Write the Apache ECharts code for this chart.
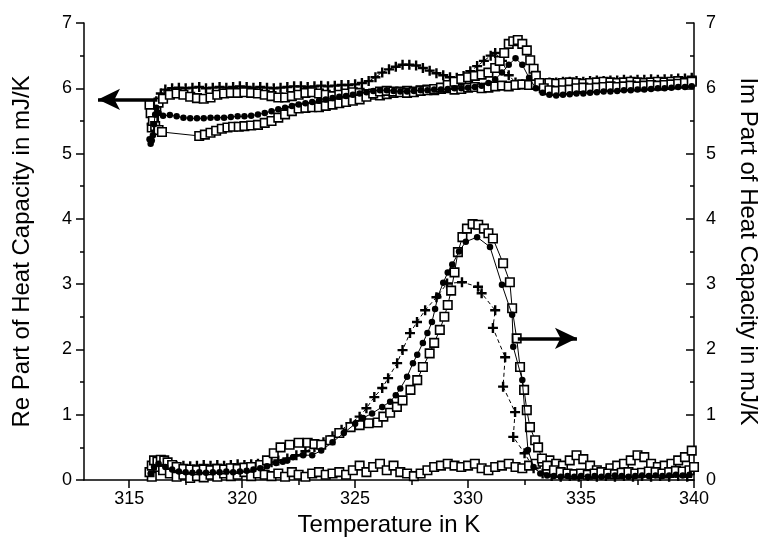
<!DOCTYPE html>
<html>
<head>
<meta charset="utf-8">
<script src="https://cdn.jsdelivr.net/npm/echarts@6/dist/echarts.min.js"></script>
<style>
html,body{margin:0;padding:0;background:#fff;}
#chart{width:768px;height:556px;}
</style>
</head>
<body>
<div id="chart"></div>
<script>
// ---- tick labels ----
const xMajorTicks = [315, 320, 325, 330, 335, 340];
const xMinorTicks = [317.5, 322.5, 327.5, 332.5, 337.5];
const xName = 'Temperature in K';
const yLeftName = 'Re Part of Heat Capacity in mJ/K';
const yRightName = 'Im Part of Heat Capacity in mJ/K';

// ---- Re part (left axis) ----
const reSqHeat = [
[315.9,5.75],[315.95,5.62],[316.05,5.5],[316.15,5.42],[316.3,5.36],[316.45,5.33],
[318.1,5.27],[318.35,5.29],[318.6,5.32],[318.85,5.35],[319.1,5.38],[319.35,5.4],[319.6,5.41],[319.85,5.41],[320.1,5.42],[320.4,5.43],[320.7,5.44],[321.0,5.47],[321.3,5.5],[321.6,5.55],[321.9,5.6],[322.2,5.65],[322.5,5.69],[322.8,5.7],[323.1,5.71],[323.4,5.71],[323.7,5.73],[324.0,5.75],[324.3,5.77],[324.6,5.79],[324.9,5.81],[325.2,5.83],[325.5,5.87],[325.8,5.92],[326.1,5.95],[326.4,5.96],[326.7,5.95],[327.0,5.94],[327.3,5.93],[327.6,5.94],[327.9,5.96],[328.2,5.97],[328.5,5.99],[328.8,6.01],[329.1,6.05],[329.4,6.1],[329.7,6.14],[330.0,6.17],[330.3,6.19],[330.6,6.21],[330.9,6.24],[331.2,6.31],[331.4,6.42],[331.6,6.54],[331.8,6.68],[332.0,6.72],[332.2,6.74],[332.4,6.68],[332.6,6.58],[332.75,6.43],[332.9,6.3],[333.0,6.19],[333.15,6.08],[333.35,6.0],[333.6,5.97],[333.9,5.96],[334.2,5.97],[334.5,5.98],[334.8,6.0],[335.1,6.01],[335.4,6.0],[335.7,6.01],[336.0,6.02],[336.3,6.03],[336.6,6.02],[336.9,6.03],[337.2,6.04],[337.5,6.03],[337.8,6.04],[338.1,6.05],[338.4,6.04],[338.7,6.05],[339.0,6.06],[339.3,6.07],[339.6,6.08],[339.9,6.1]
];
const reCircHeat = [
[315.9,5.22],[315.95,5.15],[316.0,5.2],[316.05,5.28],[316.1,5.45],[316.15,5.6],[316.2,5.7],[316.3,5.62],[316.5,5.58],[316.8,5.59],[317.1,5.57],[317.4,5.55],[317.7,5.54],[318.0,5.54],[318.3,5.54],[318.6,5.55],[318.9,5.55],[319.2,5.55],[319.5,5.56],[319.8,5.57],[320.1,5.57],[320.4,5.58],[320.7,5.6],[321.0,5.62],[321.3,5.65],[321.6,5.68],[321.9,5.7],[322.2,5.73],[322.5,5.75],[322.8,5.77],[323.1,5.79],[323.4,5.81],[323.7,5.83],[324.0,5.85],[324.3,5.87],[324.6,5.88],[324.9,5.9],[325.2,5.92],[325.5,5.94],[325.8,5.96],[326.1,5.97],[326.4,5.97],[326.7,5.96],[327.0,5.95],[327.3,5.95],[327.6,5.96],[327.9,5.97],[328.2,5.97],[328.5,5.98],[328.8,5.98],[329.1,5.99],[329.4,6.0],[329.7,6.0],[330.0,6.01],[330.3,6.02],[330.6,6.04],[330.9,6.08],[331.2,6.14],[331.5,6.24],[331.8,6.36],[332.1,6.46],[332.4,6.36],[332.7,6.16],[333.0,6.0],[333.3,5.93],[333.6,5.9],[333.9,5.89],[334.2,5.9],[334.5,5.91],[334.8,5.92],[335.1,5.92],[335.4,5.93],[335.7,5.94],[336.0,5.95],[336.3,5.95],[336.6,5.96],[336.9,5.97],[337.2,5.97],[337.5,5.98],[337.8,5.98],[338.1,5.99],[338.4,6.0],[338.7,6.0],[339.0,6.01],[339.3,6.02],[339.6,6.02],[339.9,6.03]
];
const rePlusHeat = [
[316.0,5.45],[316.1,5.6],[316.2,5.8],[316.4,5.92],[316.6,5.98],[316.9,6.0],[317.2,6.01],[317.5,6.0],[317.8,6.01],[318.1,6.02],[318.4,6.0],[318.7,6.01],[319.0,6.02],[319.3,6.01],[319.6,6.02],[319.9,6.03],[320.2,6.02],[320.5,6.01],[320.8,6.02],[321.1,6.01],[321.4,6.0],[321.7,6.01],[322.0,6.02],[322.3,6.03],[322.6,6.03],[322.9,6.02],[323.2,6.03],[323.5,6.04],[323.8,6.03],[324.1,6.04],[324.4,6.05],[324.7,6.05],[325.0,6.06],[325.3,6.08],[325.6,6.11],[325.9,6.17],[326.2,6.24],[326.5,6.29],[326.8,6.33],[327.1,6.36],[327.4,6.36],[327.7,6.35],[328.0,6.31],[328.3,6.27],[328.6,6.23],[328.9,6.2],[329.2,6.17],[329.5,6.16],[329.8,6.19],[330.1,6.26],[330.4,6.34],[330.7,6.42],[331.0,6.5],[331.2,6.54],[331.5,6.42],[331.8,6.2],[332.1,6.09],[332.4,6.06],[332.7,6.07],[333.0,6.08],[333.3,6.08],[333.6,6.09],[333.9,6.09],[334.2,6.1],[334.5,6.1],[334.8,6.11],[335.1,6.1],[335.4,6.11],[335.7,6.12],[336.0,6.11],[336.3,6.12],[336.6,6.12],[336.9,6.13],[337.2,6.12],[337.5,6.13],[337.8,6.13],[338.1,6.14],[338.4,6.13],[338.7,6.14],[339.0,6.14],[339.3,6.15],[339.6,6.15],[339.9,6.16]
];
const reCool = [
[316.0,5.4],[316.1,5.55],[316.2,5.7],[316.3,5.78],[316.5,5.84],[316.8,5.9],[317.1,5.92],[317.4,5.9],[317.7,5.87],[318.0,5.85],[318.3,5.84],[318.6,5.86],[318.9,5.9],[319.2,5.92],[319.5,5.93],[319.8,5.93],[320.1,5.94],[320.4,5.93],[320.7,5.92],[321.0,5.9],[321.3,5.88],[321.6,5.86],[321.9,5.86],[322.2,5.88],[322.5,5.9],[322.8,5.93],[323.1,5.94],[323.4,5.92],[323.7,5.9],[324.0,5.88],[324.3,5.9],[324.6,5.92],[324.9,5.94],[325.2,5.93],[325.5,5.91],[325.8,5.9],[326.1,5.89],[326.4,5.91],[326.7,5.93],[327.0,5.95],[327.3,5.96],[327.6,5.95],[327.9,5.97],[328.2,5.98],[328.5,5.97],[328.8,5.99],[329.1,6.0],[329.4,5.98],[329.7,5.99],[330.0,6.01],[330.3,6.02],[330.6,6.0],[330.9,6.01],[331.2,6.03],[331.5,6.04],[331.8,6.03],[332.1,6.05],[332.4,6.06],[332.7,6.05],[333.0,6.06],[333.3,6.07],[333.6,6.08],[333.9,6.07],[334.2,6.08],[334.5,6.09],[334.8,6.08],[335.1,6.07],[335.4,6.08],[335.7,6.09],[336.0,6.1],[336.3,6.09],[336.6,6.08],[336.9,6.09],[337.2,6.1],[337.5,6.09],[337.8,6.08],[338.1,6.09],[338.4,6.1],[338.7,6.09],[339.0,6.1],[339.3,6.11],[339.6,6.1],[339.9,6.12]
];

// ---- Im part (right axis) ----
const imSqHeat = [
[315.9,0.12],[316.0,0.22],[316.1,0.3],[316.25,0.28],[316.4,0.31],[316.55,0.3],[316.7,0.27],[316.9,0.23],[317.1,0.2],[317.4,0.17],[317.7,0.16],[318.0,0.15],[318.3,0.16],[318.6,0.15],[318.9,0.17],[319.2,0.16],[319.5,0.18],[319.8,0.17],[320.1,0.19],[320.4,0.2],[320.8,0.23],[321.1,0.3],[321.4,0.41],[321.7,0.5],[322.1,0.54],[322.5,0.57],[322.9,0.57],[323.2,0.55],[323.5,0.54],[323.9,0.61],[324.3,0.72],[324.8,0.81],[325.2,0.84],[325.6,0.87],[326.0,0.88],[326.25,0.97],[326.55,1.03],[326.85,1.12],[327.1,1.22],[327.45,1.38],[327.75,1.53],[328.0,1.73],[328.3,1.94],[328.5,2.1],[328.75,2.3],[328.95,2.5],[329.1,2.68],[329.25,2.9],[329.4,3.18],[329.55,3.49],[329.75,3.72],[329.95,3.85],[330.2,3.92],[330.45,3.91],[330.7,3.85],[330.9,3.78],[331.1,3.7],[331.55,3.32],[331.85,3.03],[331.95,2.63],[332.15,2.17],[332.3,1.73],[332.48,1.38],[332.6,1.07],[332.74,0.81],[332.97,0.61],[333.1,0.5],[333.27,0.33],[333.5,0.22],[333.8,0.15],[334.1,0.12],[334.4,0.1],[334.7,0.09],[335.0,0.1],[335.3,0.08],[335.6,0.1],[335.9,0.12],[336.2,0.1],[336.5,0.09],[336.8,0.11],[337.1,0.12],[337.4,0.1],[337.7,0.11],[338.0,0.13],[338.3,0.12],[338.6,0.1],[338.9,0.12],[339.2,0.14],[339.5,0.13],[339.8,0.15],[340.0,0.2]
];
const imCircHeat = [
[315.95,0.1],[316.1,0.2],[316.3,0.25],[316.6,0.2],[316.9,0.16],[317.2,0.13],[317.5,0.12],[317.8,0.11],[318.1,0.12],[318.4,0.11],[318.7,0.12],[319.0,0.12],[319.3,0.13],[319.6,0.12],[319.9,0.13],[320.2,0.14],[320.5,0.16],[320.8,0.18],[321.1,0.21],[321.5,0.26],[321.8,0.28],[322.0,0.3],[322.25,0.35],[322.7,0.38],[323.1,0.38],[323.5,0.45],[324.0,0.58],[324.5,0.72],[325.0,0.86],[325.35,0.95],[325.75,1.02],[326.2,1.12],[326.55,1.2],[326.8,1.3],[327.0,1.4],[327.3,1.58],[327.56,1.79],[327.75,1.92],[328.0,2.1],[328.2,2.25],[328.4,2.42],[328.54,2.62],[328.67,2.82],[328.9,3.02],[329.1,3.18],[329.3,3.3],[329.6,3.5],[329.9,3.65],[330.4,3.72],[330.97,3.57],[331.5,2.99],[331.95,2.53],[332.0,2.04],[332.4,1.53],[332.65,0.46],[332.9,0.2],[333.2,0.1],[333.5,0.07],[333.8,0.06],[334.1,0.05],[334.4,0.06],[334.7,0.05],[335.0,0.06],[335.3,0.05],[335.6,0.06],[335.9,0.05],[336.2,0.06],[336.5,0.07],[336.8,0.06],[337.1,0.05],[337.4,0.06],[337.7,0.07],[338.0,0.06],[338.3,0.07],[338.6,0.06],[338.9,0.07],[339.2,0.08],[339.5,0.07],[339.8,0.08]
];
const imPlusHeat = [
[316.2,0.22],[316.5,0.28],[316.8,0.25],[317.1,0.21],[317.4,0.22],[317.7,0.21],[318.0,0.22],[318.3,0.23],[318.6,0.22],[318.9,0.23],[319.2,0.22],[319.5,0.23],[319.8,0.24],[320.1,0.23],[320.4,0.24],[320.7,0.25],[321.0,0.25],[321.3,0.27],[321.6,0.3],[322.0,0.33],[322.4,0.38],[322.8,0.44],[323.2,0.5],[323.6,0.58],[324.0,0.67],[324.4,0.77],[324.8,0.87],[325.2,0.97],[325.5,1.1],[325.85,1.27],[326.2,1.41],[326.46,1.56],[326.86,1.79],[327.1,1.99],[327.43,2.25],[327.74,2.42],[328.1,2.6],[328.6,2.8],[329.07,3.01],[329.73,3.03],[330.44,2.96],[330.6,2.86],[331.2,2.6],[331.1,2.33],[331.64,1.88],[331.55,1.43],[332.08,1.04],[332.0,0.66],[332.5,0.41],[332.9,0.18],[333.3,0.1],[333.7,0.06],[334.1,0.05],[334.5,0.06],[334.9,0.05],[335.3,0.06],[335.7,0.05],[336.1,0.06],[336.5,0.05],[336.9,0.06],[337.3,0.05],[337.7,0.06],[338.1,0.05],[338.5,0.06],[338.9,0.05],[339.3,0.06],[339.7,0.05]
];
const imCool = [
[316.0,0.05],[316.2,0.2],[316.5,0.15],[316.8,0.1],[317.1,0.05],[317.4,0.08],[317.7,0.03],[318.0,0.06],[318.3,0.04],[318.6,0.08],[318.9,0.05],[319.2,0.1],[319.5,0.06],[319.8,0.08],[320.1,0.12],[320.4,0.06],[320.7,0.1],[321.0,0.08],[321.3,0.06],[321.6,0.1],[321.9,0.05],[322.2,0.12],[322.5,0.08],[322.8,0.05],[323.1,0.1],[323.4,0.12],[323.7,0.08],[324.0,0.1],[324.3,0.12],[324.6,0.08],[324.9,0.15],[325.2,0.22],[325.5,0.12],[325.8,0.2],[326.1,0.25],[326.4,0.15],[326.7,0.22],[327.0,0.12],[327.3,0.1],[327.6,0.06],[327.9,0.1],[328.2,0.15],[328.5,0.2],[328.8,0.22],[329.1,0.25],[329.4,0.22],[329.7,0.2],[330.0,0.22],[330.3,0.25],[330.6,0.18],[330.9,0.15],[331.2,0.2],[331.5,0.22],[331.8,0.25],[332.1,0.2],[332.4,0.18],[332.7,0.22],[333.0,0.25],[333.3,0.28],[333.6,0.3],[333.9,0.25],[334.2,0.22],[334.5,0.3],[334.8,0.38],[335.1,0.32],[335.4,0.22],[335.7,0.15],[336.0,0.12],[336.3,0.18],[336.6,0.22],[336.9,0.25],[337.2,0.3],[337.5,0.38],[337.8,0.35],[338.1,0.25],[338.4,0.2],[338.7,0.22],[339.0,0.25],[339.3,0.3],[339.6,0.35],[339.9,0.45]
];

// ---- annotation arrows (data coords) ----
const reArrow = {from: [313.62, 5.83], to: [316.25, 5.83]};
const imArrow = {from: [332.2, 2.17], to: [334.82, 2.17]};

const FONT = 'Liberation Sans, Arial, sans-serif';
const PLUS = 'path://M3.8,0H6.2V3.8H10V6.2H6.2V10H3.8V6.2H0V3.8H3.8Z';

function sqSeries(name, data, yIdx) {
  return {
    name, type: 'line', data, yAxisIndex: yIdx, symbol: 'rect', symbolSize: 8.5,
    showAllSymbol: true, z: 3,
    itemStyle: {color: '#fff', borderColor: '#000', borderWidth: 1.6},
    lineStyle: {color: '#000', width: 1}
  };
}
function circSeries(name, data, yIdx) {
  return {
    name, type: 'line', data, yAxisIndex: yIdx, symbol: 'circle', symbolSize: 6.5,
    showAllSymbol: true, z: 4,
    itemStyle: {color: '#000', borderWidth: 0},
    lineStyle: {color: '#000', width: 1}
  };
}
function plusSeries(name, data, yIdx) {
  return {
    name, type: 'line', data, yAxisIndex: yIdx, symbol: PLUS, symbolSize: 10,
    showAllSymbol: true, z: 2,
    itemStyle: {color: '#000', borderWidth: 0},
    lineStyle: {color: '#000', width: 1, type: [4, 3]}
  };
}
function arrowLine(a, dir) {
  const start = {coord: a.from, symbol: dir === 'left' ? 'arrow' : 'none', symbolSize: [16, 22]};
  const end = {coord: a.to, symbol: dir === 'left' ? 'none' : 'arrow', symbolSize: [16, 22]};
  return {
    silent: true, animation: false,
    label: {show: false},
    lineStyle: {color: '#000', width: 3.5, type: 'solid'},
    itemStyle: {color: '#000'},
    emphasis: {disabled: true},
    data: [[start, end]]
  };
}

const s1 = sqSeries('Re cooling', reCool, 0);
const s2 = plusSeries('Re +', rePlusHeat, 0);
const s3 = sqSeries('Re squares', reSqHeat, 0);
s3.markLine = arrowLine(reArrow, 'left');
const s4 = circSeries('Re circles', reCircHeat, 0);
const s5 = sqSeries('Im cooling', imCool, 1);
const s6 = plusSeries('Im +', imPlusHeat, 1);
const s7 = sqSeries('Im squares', imSqHeat, 1);
s7.markLine = arrowLine(imArrow, 'right');
const s8 = circSeries('Im circles', imCircHeat, 1);

const axisLineStyle = {color: '#000', width: 1.5};
const labelStyle = {color: '#000', fontFamily: FONT, fontSize: 18};
const nameStyle = {color: '#000', fontFamily: FONT, fontSize: 24};

const option = {
  animation: false,
  backgroundColor: '#fff',
  grid: {left: 84, right: 74, top: 23, bottom: 76},
  xAxis: [
    {
      type: 'value', min: 313, max: 340, position: 'bottom',
      name: xName, nameLocation: 'middle', nameGap: 32, nameTextStyle: nameStyle,
      axisLine: {show: true, onZero: false, lineStyle: axisLineStyle},
      axisTick: {show: true, length: 8, customValues: xMajorTicks, lineStyle: axisLineStyle},
      axisLabel: {show: true, customValues: xMajorTicks, margin: 10, ...labelStyle},
      splitLine: {show: false}
    },
    {
      type: 'value', min: 313, max: 340, position: 'bottom',
      axisLine: {show: false, onZero: false},
      axisTick: {show: true, length: 5, customValues: xMinorTicks, lineStyle: axisLineStyle},
      axisLabel: {show: false},
      splitLine: {show: false}
    }
  ],
  yAxis: [
    {
      type: 'value', min: 0, max: 7, interval: 1, position: 'left',
      name: yLeftName, nameLocation: 'middle', nameGap: 50, nameRotate: 90, nameTextStyle: nameStyle,
      axisLine: {show: true, lineStyle: axisLineStyle},
      axisTick: {show: true, length: 8, lineStyle: axisLineStyle},
      minorTick: {show: true, splitNumber: 2, length: 4, lineStyle: {color: '#000', width: 1.5}},
      axisLabel: {margin: 12, ...labelStyle},
      splitLine: {show: false}
    },
    {
      type: 'value', min: 0, max: 7, interval: 1, position: 'right',
      name: yRightName, nameLocation: 'middle', nameGap: 42, nameRotate: -90, nameTextStyle: nameStyle,
      axisLine: {show: true, lineStyle: axisLineStyle},
      axisTick: {show: true, inside: true, length: 8, lineStyle: axisLineStyle},
      minorTick: {show: true, splitNumber: 2, length: 4, lineStyle: {color: '#000', width: 1.5}},
      axisLabel: {margin: 12, ...labelStyle},
      splitLine: {show: false}
    }
  ],
  series: [s1, s2, s3, s4, s5, s6, s7, s8]
};

const chart = echarts.init(document.getElementById('chart'), null, {renderer: 'canvas'});
chart.setOption(option);
</script>
</body>
</html>
